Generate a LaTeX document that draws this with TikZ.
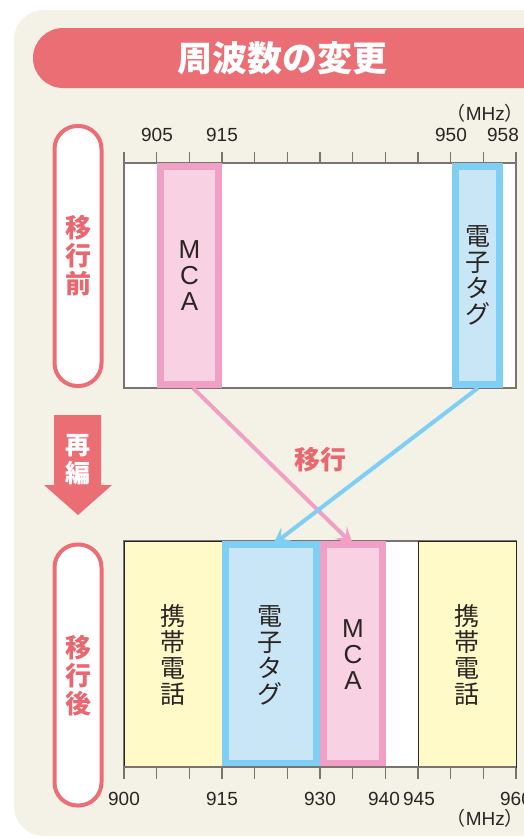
\documentclass[tikz,border=0pt]{standalone}
\usepackage{fontspec}
\setmainfont{Liberation Sans}
\newfontfamily\cjk{Noto Sans CJK JP}
\usetikzlibrary{arrows.meta}
\definecolor{bgcream}{HTML}{F4F1E6}
\definecolor{titlered}{HTML}{EC6E75}
\definecolor{pinkB}{HTML}{F0A0C4}
\definecolor{pinkF}{HTML}{F8D2E3}
\definecolor{blueB}{HTML}{7FCEF3}
\definecolor{blueF}{HTML}{C9E6F7}
\definecolor{yellowF}{HTML}{FFFAC8}
\definecolor{textred}{HTML}{E9686F}
\definecolor{axisgray}{HTML}{7A7470}
\definecolor{darktxt}{HTML}{2A2522}
\tikzset{
  chartframe/.style={draw=axisgray, line width=1.2pt, fill=white, minimum width=392pt, inner sep=0pt, outer sep=0pt},
  pinkbox/.style={draw=pinkB, fill=pinkF, line width=7pt, inner sep=0pt, outer sep=0pt},
  bluebox/.style={draw=blueB, fill=blueF, line width=7pt, inner sep=0pt, outer sep=0pt},
  yellowbox/.style={draw=darktxt, fill=yellowF, line width=0.8pt, inner sep=0pt, outer sep=0pt},
  pill/.style={draw=titlered, fill=white, line width=4pt, rounded corners=23pt, minimum width=47pt, minimum height=260pt, inner sep=0pt},
  pilltext/.style={text=textred, font=\cjk\bfseries\fontsize{26}{28}\selectfont, align=center},
  boxcjk/.style={text=darktxt, font=\cjk\fontsize{25}{26}\selectfont, align=center},
  boxlatin/.style={text=darktxt, font=\fontsize{26}{26}\selectfont, align=center},
  ticklabel/.style={text=darktxt, font=\fontsize{19}{19}\selectfont, inner sep=0pt},
  tickmark/.style={draw=axisgray, line width=1.1pt},
  pinkarrow/.style={draw=pinkB, line width=4pt, -{Stealth[length=17pt, width=17pt, inset=7pt]}},
  bluearrow/.style={draw=blueB, line width=4pt, -{Stealth[length=17pt, width=17pt, inset=7pt]}},
}
\begin{document}
\begin{tikzpicture}[x=1pt, y=-1pt]
\useasboundingbox (0,0) rectangle (524,838);
% background panel
\fill[bgcream, rounded corners=30pt] (14,10) rectangle (620,836);
% title bar
\fill[titlered, rounded corners=30pt] (33,28) rectangle (620,88);
\node[text=white, font=\cjk\bfseries\fontsize{35}{35}\selectfont] (title) at (282,58) {周波数の変更};

% left pills
\node[pill] (before) at (78,256) {};
\node[pilltext] (beforet) at (78,256) {移\\行\\前};
\node[pill, minimum height=261pt] (after) at (78,675) {};
\node[pilltext] (aftert) at (78,676) {移\\行\\後};

% reorganize arrow
\fill[titlered] (54,415) -- (101,415) -- (101,485) -- (112,485) -- (78,515) -- (44,485) -- (54,485) -- cycle;
\node[text=white, font=\cjk\bfseries\fontsize{25}{28}\selectfont, align=center] (reorg) at (78,460) {再\\編};

% ---- top chart ----
\foreach \i in {0,...,12} {
  \draw[tickmark] ({124+392/12*\i},152) -- ({124+392/12*\i},163);
}
\node[chartframe, minimum height=225pt] (frameA) at (320,275.5) {};
\node[pinkbox, minimum width=58pt, minimum height=218pt] (mcaA) at (189.5,275.5) {};
\node[bluebox, minimum width=44pt, minimum height=218pt] (tagA) at (477.5,275.5) {};
\node[boxlatin] (mcaAt) at (189.5,276) {M\\C\\A};
\node[boxcjk] (tagAt) at (477.5,275) {電\\子\\タ\\グ};
\node[ticklabel] (l905) at (157,135) {905};
\node[ticklabel] (l915) at (222,135) {915};
\node[ticklabel] (l950) at (451,135) {950};
\node[ticklabel] (l958) at (503,135) {958};
\node[ticklabel, anchor=east, font=\fontsize{19}{19}\selectfont] (mhzA) at (524,113) {{\cjk（}MHz{\cjk）}};

% ---- bottom chart ----
\foreach \i in {0,...,12} {
  \draw[tickmark] ({124+392/12*\i},767) -- ({124+392/12*\i},779);
}
\node[chartframe, minimum height=226pt] (frameB) at (320,654) {};
\node[yellowbox, minimum width=98pt, minimum height=226pt] (phone1) at (173,654) {};
\node[yellowbox, minimum width=98pt, minimum height=226pt] (phone2) at (467,654) {};
\node[bluebox, minimum width=91pt, minimum height=219pt] (tagB) at (271,654) {};
\node[pinkbox, minimum width=59pt, minimum height=219pt] (mcaB) at (353,654) {};
\draw[axisgray, line width=1.2pt] (124,767) -- (516,767);
\node[boxcjk] (phone1t) at (173,655) {携\\帯\\電\\話};
\node[boxcjk] (phone2t) at (467,655) {携\\帯\\電\\話};
\node[boxcjk] (tagBt) at (270,655) {電\\子\\タ\\グ};
\node[boxlatin] (mcaBt) at (353,655) {M\\C\\A};
\node[ticklabel] (b900) at (124,799) {900};
\node[ticklabel] (b915) at (222,799) {915};
\node[ticklabel] (b930) at (320,799) {930};
\node[ticklabel] (b940) at (384,799) {940};
\node[ticklabel] (b945) at (419,799) {945};
\node[ticklabel] (b960) at (516,799) {960};
\node[ticklabel, anchor=east, font=\fontsize{19}{19}\selectfont] (mhzB) at (524,818) {{\cjk（}MHz{\cjk）}};

% migration arrows
\coordinate (pA) at (193,388);
\coordinate (bA) at (478,388);
\draw[pinkarrow] (pA) -- (mcaB.north);
\draw[bluearrow] (bA) -- ([xshift=2pt]tagB.north);
\node[text=textred, font=\cjk\bfseries\fontsize{26}{26}\selectfont] (move) at (320,460) {移行};
\end{tikzpicture}
\end{document}
